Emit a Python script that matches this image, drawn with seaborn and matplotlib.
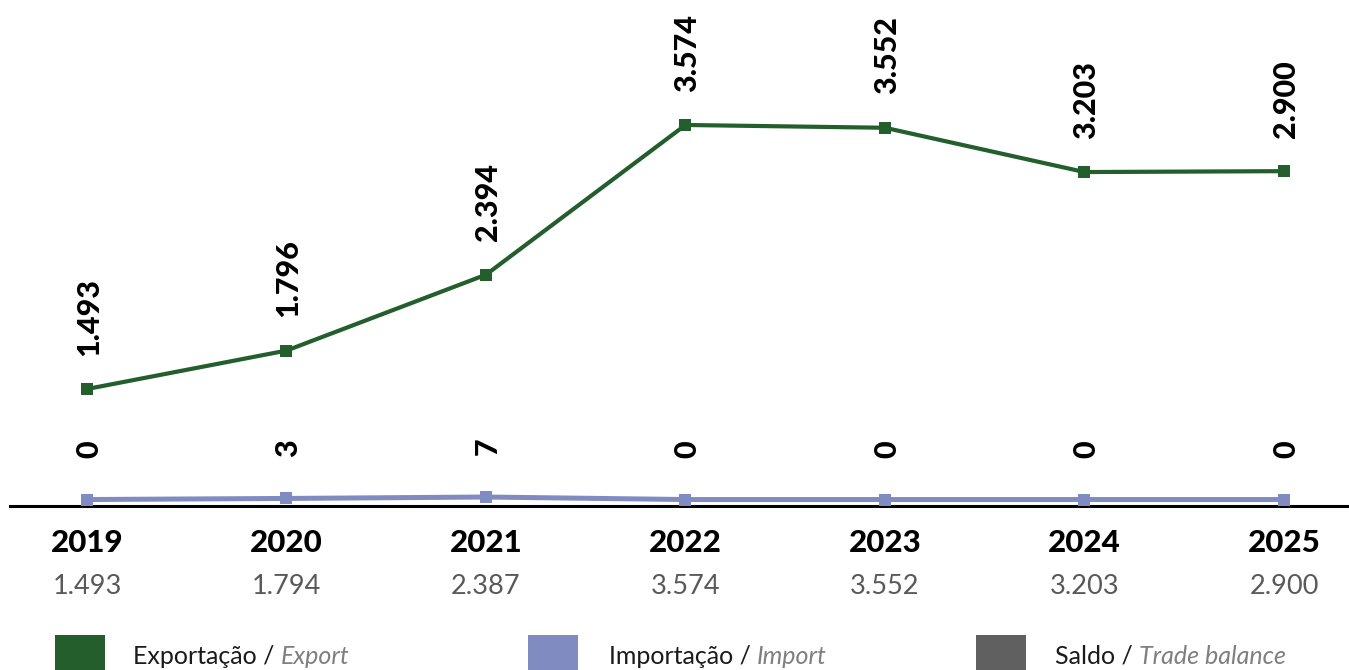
import matplotlib
matplotlib.use("Agg")
import matplotlib.pyplot as plt
import matplotlib.patches as mpatches
import seaborn as sns
import pandas as pd

# dados
anos = [2019, 2020, 2021, 2022, 2023, 2024, 2025]
exportacao = [1493, 1796, 2394, 3574, 3552, 3203, 2900]
# posição da linha no gráfico original (o ponto de 2025 está no nível de 2024)
exportacao_linha = [1493, 1796, 2394, 3574, 3552, 3203, 3210]
importacao = [0, 3, 7, 0, 0, 0, 0]
saldo = [1493, 1794, 2387, 3574, 3552, 3203, 2900]

legenda_pt = ["Exportação / ", "Importação / ", "Saldo / "]
legenda_en = ["Export", "Import", "Trade balance"]

verde = "#235E2C"
azul = "#7F8BC1"
cinza = "#606060"
cores = [verde, azul, cinza]


def fmt(v):
    return f"{v:,}".replace(",", ".")


sns.set_style("white")
plt.rcParams["font.family"] = ["Lato", "DejaVu Sans"]

df = pd.DataFrame({"ano": anos, "exp": exportacao_linha, "imp": importacao})

W, H = 1349, 670
fig = plt.figure(figsize=(W / 100, H / 100), dpi=100)
ax = fig.add_axes([10 / W, (H - 506) / H, (W - 10) / W, 506 / H])
ax2 = ax.twinx()

sns.lineplot(data=df, x="ano", y="exp", ax=ax, color=verde, linewidth=3,
             marker="s", markersize=8, markeredgewidth=0)
sns.lineplot(data=df, x="ano", y="imp", ax=ax2, color=azul, linewidth=3.6,
             marker="s", markersize=8.5, markeredgewidth=0)

ax.set_xlim(2018.614, 2025.326)
ax.set_ylim(571, 4559)
ax2.set_ylim(-18, 1390)

for a in (ax, ax2):
    for s in ("top", "right", "left", "bottom"):
        a.spines[s].set_visible(False)
    a.set_yticks([])
    a.set_xticks([])
    a.set_xlabel("")
    a.set_ylabel("")
ax.spines["bottom"].set_visible(True)
ax.spines["bottom"].set_color("black")
ax.spines["bottom"].set_linewidth(2.2)

# rótulos
for x, y, v in zip(anos, exportacao_linha, exportacao):
    ax.annotate(fmt(v), (x, y), xytext=(1.5, 24), textcoords="offset points",
                rotation=90, ha="center", va="bottom", fontsize=22,
                fontweight="black", color="black")
for x, v in zip(anos, importacao):
    ax2.annotate(fmt(v), (x, v), xytext=(1.5, 30), textcoords="offset points",
                 rotation=90, ha="center", va="bottom", fontsize=22,
                 fontweight="black", color="black")

tr = ax.get_xaxis_transform()
for x, s in zip(anos, saldo):
    ax.text(x, -0.073, str(x), transform=tr, ha="center", va="center",
            fontsize=22.5, fontweight="black", color="black")
    ax.text(x, -0.16, fmt(s), transform=tr, ha="center", va="center",
            fontsize=19.5, color="#595959")

# legenda
fig.canvas.draw()
renderer = fig.canvas.get_renderer()
quad_x = [55, 528, 976]
texto_x = [133, 609, 1055]
for qx, tx, c, pt, en in zip(quad_x, texto_x, cores, legenda_pt, legenda_en):
    fig.patches.append(mpatches.Rectangle((qx / W, 0), 50 / W, 35 / H,
                                          transform=fig.transFigure,
                                          facecolor=c, edgecolor="none"))
    t = fig.text(tx / W, 14 / H, pt, ha="left", va="center", fontsize=18,
                 color="#1A1A1A")
    bb = t.get_window_extent(renderer)
    fig.text(bb.x1 / W, 14 / H, en, ha="left", va="center", fontsize=18,
             style="italic", color="#7F7F7F")

fig.savefig("out.png", dpi=100)
